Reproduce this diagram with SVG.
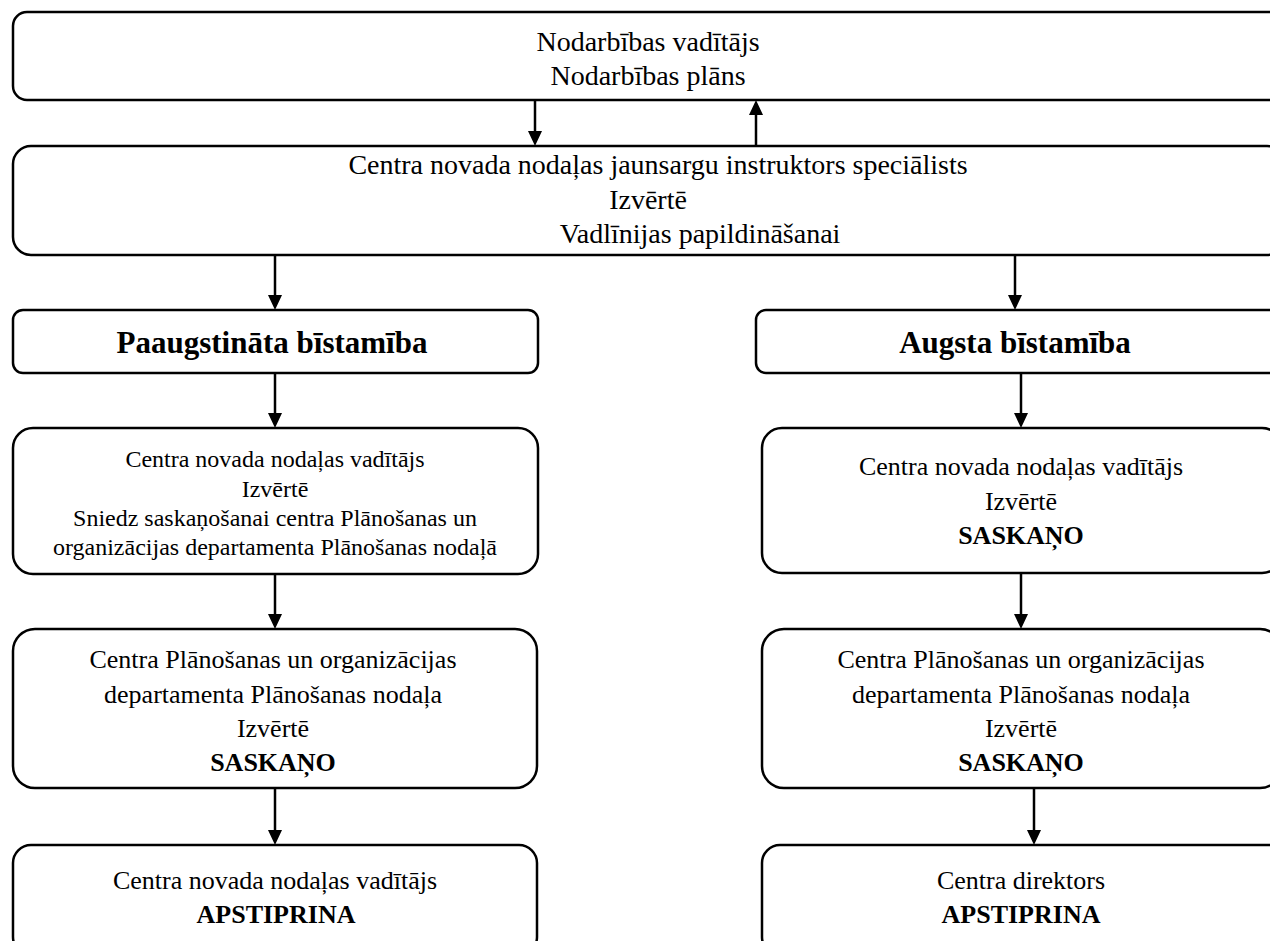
<svg xmlns="http://www.w3.org/2000/svg" width="1270" height="941" viewBox="0 0 1270 941">
<style>
.box{fill:#fff;stroke:#000;stroke-width:2.5}
.t{font-family:"Liberation Serif","Times New Roman",serif;fill:#000;text-anchor:middle}
.f28{font-size:28px}
.f26{font-size:26px}
.f24{font-size:24px}
.b{font-weight:bold}
.h{font-size:31px;font-weight:bold}
.c{stroke:#000;stroke-width:2.5;fill:none;marker-end:url(#ah)}
</style>
<defs>
<marker id="ah" viewBox="0 0 15 14" markerWidth="15" markerHeight="14" refX="3" refY="7" orient="auto" markerUnits="userSpaceOnUse">
<path d="M0,0 L15,7 L0,14 z" fill="#000"/>
</marker>
</defs>
<rect width="1270" height="941" fill="#fff"/>
<g id="connectors">
<line class="c" x1="535" y1="100" x2="535" y2="134"/>
<line class="c" x1="756" y1="146" x2="756" y2="112"/>
<line class="c" x1="275" y1="255" x2="275" y2="298"/>
<line class="c" x1="1015" y1="255" x2="1015" y2="298"/>
<line class="c" x1="275" y1="373" x2="275" y2="416"/>
<line class="c" x1="1021" y1="373" x2="1021" y2="416"/>
<line class="c" x1="275" y1="574" x2="275" y2="617"/>
<line class="c" x1="1021" y1="573" x2="1021" y2="617"/>
<line class="c" x1="275" y1="788" x2="275" y2="833"/>
<line class="c" x1="1034" y1="788" x2="1034" y2="833"/>
</g>
<g id="n1">
<rect class="box" x="13" y="12" width="1272" height="88" rx="14"/>
<text class="t f28" x="648" y="51">Nodarbības vadītājs</text>
<text class="t f28" x="648" y="85">Nodarbības plāns</text>
</g>
<g id="n2">
<rect class="box" x="13" y="146" width="1272" height="109" rx="18"/>
<text class="t f28" x="658" y="174">Centra novada nodaļas jaunsargu instruktors speciālists</text>
<text class="t f28" x="648" y="208.5">Izvērtē</text>
<text class="t f28" x="700" y="243">Vadlīnijas papildināšanai</text>
</g>
<g id="n3">
<rect class="box" x="13" y="310" width="525" height="63" rx="10"/>
<text class="t h" x="272" y="353">Paaugstināta bīstamība</text>
</g>
<g id="n4">
<rect class="box" x="756" y="310" width="530" height="63" rx="10"/>
<text class="t h" x="1015" y="353">Augsta bīstamība</text>
</g>
<g id="n5">
<rect class="box" x="13" y="428" width="525" height="146" rx="20"/>
<text class="t f24" x="275" y="467">Centra novada nodaļas vadītājs</text>
<text class="t f24" x="275" y="496.5">Izvērtē</text>
<text class="t f24" x="275" y="526">Sniedz saskaņošanai centra Plānošanas un</text>
<text class="t f24" x="275" y="555">organizācijas departamenta Plānošanas nodaļā</text>
</g>
<g id="n6">
<rect class="box" x="762" y="428" width="520" height="145" rx="20"/>
<text class="t f26" x="1021" y="475">Centra novada nodaļas vadītājs</text>
<text class="t f26" x="1021" y="509.5">Izvērtē</text>
<text class="t f26 b" x="1021" y="544">SASKAŅO</text>
</g>
<g id="n7">
<rect class="box" x="13" y="629" width="524" height="159" rx="22"/>
<text class="t f26" x="273" y="668">Centra Plānošanas un organizācijas</text>
<text class="t f26" x="273" y="703">departamenta Plānošanas nodaļa</text>
<text class="t f26" x="273" y="737">Izvērtē</text>
<text class="t f26 b" x="273" y="771">SASKAŅO</text>
</g>
<g id="n8">
<rect class="box" x="762" y="629" width="520" height="159" rx="22"/>
<text class="t f26" x="1021" y="668">Centra Plānošanas un organizācijas</text>
<text class="t f26" x="1021" y="703">departamenta Plānošanas nodaļa</text>
<text class="t f26" x="1021" y="737">Izvērtē</text>
<text class="t f26 b" x="1021" y="771">SASKAŅO</text>
</g>
<g id="n9">
<rect class="box" x="13" y="845" width="524" height="110" rx="18"/>
<text class="t f26" x="275" y="889">Centra novada nodaļas vadītājs</text>
<text class="t f26 b" x="276" y="923">APSTIPRINA</text>
</g>
<g id="n10">
<rect class="box" x="762" y="845" width="525" height="110" rx="18"/>
<text class="t f26" x="1021" y="889">Centra direktors</text>
<text class="t f26 b" x="1021" y="923">APSTIPRINA</text>
</g>
</svg>
